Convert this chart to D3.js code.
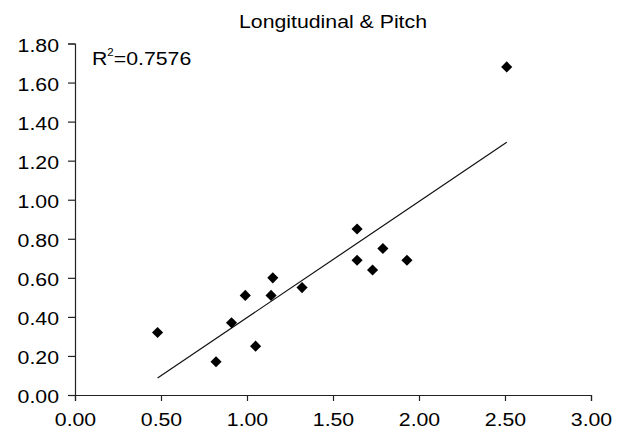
<!DOCTYPE html>
<html>
<head>
<meta charset="utf-8">
<script src="https://cdn.jsdelivr.net/npm/d3@7"></script>
<style>
  body { margin: 0; background: #fff; }
  text { font-family: "Liberation Sans", Arial, sans-serif; fill: #000; }
</style>
</head>
<body>
<svg id="chart" width="627" height="430"></svg>
<script>
// values
const xValues = [0.48, 0.82, 0.91, 0.99, 1.05, 1.14, 1.15, 1.32, 1.64, 1.64, 1.79, 1.73, 1.93, 2.51];
const yValues = [0.32, 0.17, 0.37, 0.51, 0.25, 0.51, 0.60, 0.55, 0.85, 0.69, 0.75, 0.64, 0.69, 1.68];
const xTicks = [0, 0.5, 1, 1.5, 2, 2.5, 3];
const yTicks = [0, 0.2, 0.4, 0.6, 0.8, 1.0, 1.2, 1.4, 1.6, 1.8];
const titleText = "Longitudinal & Pitch";
const rSquared = "0.7576";

const svg = d3.select("#chart");
const stretch = 1.15; // text in the source is wider than tall

const x = d3.scaleLinear().domain([0, 3]).range([75, 591]);
const y = d3.scaleLinear().domain([0, 1.8]).range([395, 43.5]);

const points = xValues.map((v, i) => ({x: v, y: yValues[i]}));

// least squares trend line
const mx = d3.mean(xValues), my = d3.mean(yValues);
const sxy = d3.sum(points, d => (d.x - mx) * (d.y - my));
const sxx = d3.sum(points, d => (d.x - mx) * (d.x - mx));
const slope = sxy / sxx;
const intercept = my - slope * mx;
const x0 = d3.min(xValues), x1 = d3.max(xValues);

// axes
const xAxis = svg.append("g")
  .attr("transform", "translate(0," + y(0) + ")")
  .call(d3.axisBottom(x).tickValues(xTicks).tickFormat(d3.format(".2f")).tickSizeOuter(0).tickSize(6).tickPadding(4));
const yAxis = svg.append("g")
  .attr("transform", "translate(" + x(0) + ",0)")
  .call(d3.axisLeft(y).tickValues(yTicks).tickFormat(d3.format(".2f")).tickSizeOuter(0).tickSize(7).tickPadding(8));

[xAxis, yAxis].forEach(function(ax) {
  ax.select(".domain").attr("stroke", "#222").attr("stroke-width", 1.2);
  ax.selectAll(".tick line").attr("stroke", "#222").attr("stroke-width", 1.2);
  ax.selectAll("text").attr("font-size", 18.5).attr("fill", "#000")
    .style("font-family", "Liberation Sans, Arial, sans-serif");
});

xAxis.selectAll(".tick text")
  .attr("dy", null)
  .attr("y", 31)
  .attr("transform", "scale(" + stretch + ",1)");
yAxis.selectAll(".tick text")
  .attr("dy", "0.42em")
  .attr("x", -16 / stretch)
  .attr("transform", "scale(" + stretch + ",1)");

// trend line
svg.append("line")
  .attr("x1", x(x0)).attr("y1", y(intercept + slope * x0))
  .attr("x2", x(x1)).attr("y2", y(intercept + slope * x1))
  .attr("stroke", "#111")
  .attr("stroke-width", 1.2);

// points
const diamond = d3.symbol().type(d3.symbolSquare).size(62);
svg.append("g")
  .selectAll("path")
  .data(points)
  .enter()
  .append("path")
  .attr("d", diamond)
  .attr("transform", d => "translate(" + x(d.x) + "," + y(d.y) + ") rotate(45)")
  .attr("fill", "#000");

// title
svg.append("text")
  .attr("transform", "translate(" + ((x(0) + x(3)) / 2) + ",28) scale(" + stretch + ",1)")
  .attr("text-anchor", "middle")
  .attr("font-size", 18.5)
  .text(titleText);

// r squared label
const rl = svg.append("text")
  .attr("transform", "translate(92,65) scale(" + stretch + ",1)")
  .attr("font-size", 18.5);
rl.append("tspan").text("R");
rl.append("tspan").attr("font-size", 10).attr("dy", -9).text("2");
rl.append("tspan").attr("dy", 9).text("=" + rSquared);
</script>
</body>
</html>
